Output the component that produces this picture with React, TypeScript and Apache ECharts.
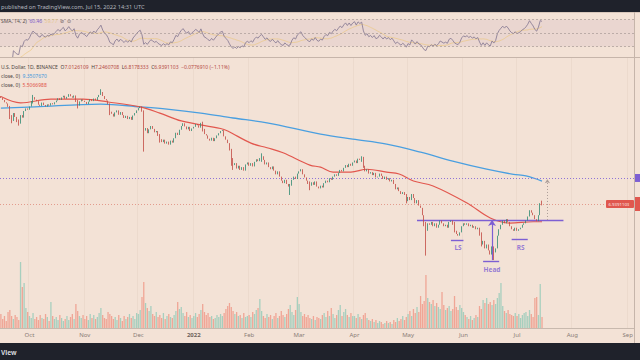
import React, { useEffect, useRef } from "react";
import * as echarts from "echarts";

// ---------- data (UNI / U.S. Dollar, daily) ----------
const firstDay = [2021, 8, 15]; // Sep 15 2021
const axisDays = 355; // category slots through early Sep 2022
const firstOpen = 28.2;

const closesSep = [27.5, 26.8, 26.0, 25.6, 24.5, 21.8, 20.4, 22.6, 21.5, 20.1, 19.7, 22.0, 21.3, 23.2, 24.0, 23.6];
const closesOct = [24.6, 26.4, 27.8, 26.9, 26.4, 25.2, 24.8, 25.9, 25.1, 24.6, 25.3, 24.9, 25.7, 25.3, 26.0, 26.6, 27.4, 26.8, 27.7, 28.3, 27.2, 27.9, 28.9, 28.1, 27.6, 28.4, 26.1, 24.9, 26.3, 27.0, 26.5];
const closesNov = [26.1, 25.4, 26.2, 27.0, 26.4, 27.3, 26.7, 27.8, 28.6, 29.7, 28.2, 27.1, 26.6, 25.3, 23.0, 22.4, 21.6, 22.8, 23.4, 22.1, 22.9, 22.0, 21.2, 21.8, 20.9, 21.5, 20.7, 21.9, 22.6, 23.4];
const closesDec = [24.1, 24.6, 23.0, 18.0, 18.6, 17.4, 18.3, 19.1, 18.4, 17.6, 17.9, 16.8, 16.1, 15.5, 16.0, 15.2, 15.6, 15.0, 15.8, 15.4, 16.3, 17.5, 17.0, 18.2, 19.1, 19.8, 19.0, 18.3, 18.9, 17.9, 18.5];
const closesJan = [18.9, 19.6, 19.3, 18.7, 19.9, 18.4, 17.2, 16.9, 16.2, 15.8, 16.4, 15.7, 16.3, 16.9, 17.4, 17.9, 18.1, 16.7, 16.0, 15.3, 13.9, 12.3, 11.5, 11.8, 11.0, 11.4, 10.8, 11.2, 10.7, 11.6, 11.9];
const closesFeb = [11.4, 11.8, 11.3, 12.0, 12.4, 12.1, 12.6, 12.9, 12.3, 11.6, 11.9, 11.2, 10.9, 11.3, 10.7, 10.2, 10.6, 9.9, 9.4, 9.1, 9.5, 9.0, 8.7, 8.8, 9.5, 9.9, 9.6, 10.3];
const closesMar = [10.6, 10.9, 10.2, 9.8, 9.4, 9.0, 8.8, 9.2, 8.9, 9.3, 8.7, 8.5, 8.8, 8.6, 9.1, 9.4, 9.2, 9.7, 9.5, 9.9, 10.2, 10.0, 10.4, 10.8, 10.6, 11.1, 11.5, 11.2, 11.7, 11.4, 11.9];
const closesApr = [12.2, 11.8, 12.5, 12.3, 12.6, 11.4, 10.6, 10.9, 10.3, 10.5, 10.1, 10.4, 9.8, 9.9, 10.3, 10.0, 9.6, 9.9, 9.5, 9.7, 9.3, 9.5, 9.0, 8.4, 8.6, 8.2, 7.9, 8.1, 7.8, 7.2];
const closesMay = [7.6, 7.3, 7.9, 7.5, 7.0, 7.3, 6.8, 6.6, 6.0, 5.2, 4.9, 5.4, 5.3, 5.5, 5.2, 5.4, 5.1, 5.3, 5.6, 5.4, 5.2, 5.3, 5.1, 5.5, 5.6, 5.3, 4.9, 4.7, 4.6, 4.8, 5.2];
const closesJun = [5.4, 5.3, 5.4, 5.2, 5.3, 5.1, 5.2, 5.0, 5.1, 4.6, 4.1, 4.3, 3.9, 4.1, 3.8, 3.6, 4.0, 3.7, 3.9, 4.6, 5.0, 5.3, 5.6, 5.4, 5.7, 5.5, 5.2, 5.0, 4.9, 5.1];
const closesJul = [4.9, 5.0, 5.1, 5.3, 5.4, 5.6, 5.9, 6.4, 6.2, 6.0, 5.7, 5.55, 6.0, 7.0126109, 6.9391103];

const volSep = [14, 9, 12, 7, 16, 18, 12, 9, 13, 11, 8, 66, 41, 45, 20, 16];
const volOct = [12, 10, 15, 9, 11, 8, 13, 10, 9, 14, 11, 7, 26, 12, 9, 11, 8, 13, 10, 7, 9, 12, 8, 11, 14, 9, 24, 17, 12, 10, 13];
const volNov = [9, 12, 8, 14, 10, 13, 9, 11, 15, 20, 13, 10, 9, 16, 14, 12, 9, 11, 8, 13, 10, 7, 12, 9, 11, 14, 10, 12, 9, 15];
const volDec = [14, 18, 31, 46, 25, 20, 17, 22, 14, 12, 16, 11, 13, 10, 15, 9, 12, 14, 11, 10, 13, 17, 26, 19, 21, 15, 12, 16, 11, 13, 10];
const volJan = [12, 15, 11, 14, 18, 24, 16, 13, 15, 11, 12, 9, 10, 13, 11, 14, 12, 15, 19, 22, 25, 21, 17, 14, 16, 12, 13, 10, 15, 11, 12];
const volFeb = [13, 11, 16, 14, 18, 20, 29, 17, 12, 10, 14, 11, 13, 9, 12, 15, 10, 12, 17, 13, 11, 14, 19, 23, 16, 13, 18, 31];
const volMar = [24, 16, 12, 14, 11, 13, 10, 9, 12, 8, 11, 10, 9, 13, 15, 11, 17, 12, 20, 14, 10, 13, 18, 23, 12, 16, 19, 13, 11, 15, 12];
const volApr = [12, 10, 14, 11, 9, 13, 15, 10, 8, 7, 9, 6, 8, 5, 7, 6, 4, 5, 7, 5, 6, 4, 8, 6, 10, 7, 9, 12, 8, 11];
const volMay = [14, 17, 12, 19, 15, 21, 16, 32, 24, 27, 53, 30, 26, 24, 28, 22, 25, 21, 19, 36, 23, 18, 20, 22, 17, 19, 32, 21, 18, 23, 20];
const volJun = [16, 13, 11, 9, 12, 8, 10, 13, 11, 22, 19, 28, 25, 30, 24, 26, 23, 28, 24, 30, 35, 45, 22, 17, 15, 18, 14, 13, 12, 15];
const volJul = [12, 14, 10, 13, 15, 16, 12, 18, 14, 11, 30, 31, 13, 44, 11];

// notable wicks: [day index, low, high]
const wicks: [number, number, number][] = [
  [5, 20.9, 24.8], [6, 19.8, 22.0], [10, 19.2, 20.8], [18, 25.6, 28.6], [43, 24.0, 26.8],
  [56, 28.6, 30.8], [61, 22.0, 25.6], [80, 13.7, 23.4], [89, 15.4, 17.2], [113, 17.8, 20.2],
  [129, 11.4, 14.2], [130, 10.8, 12.6], [146, 12.0, 13.4], [162, 7.8, 9.0], [173, 8.3, 9.3],
  [202, 12.0, 12.9], [203, 11.1, 12.8], [227, 7.0, 7.9], [238, 3.55, 5.5], [254, 4.8, 5.5],
  [269, 4.0, 4.8], [276, 3.35, 4.0], [303, 6.8178333, 7.2460708],
];

// moving averages read at sample days: [day index, value]
const sma200Points: [number, number][] = [
  [0, 24.1], [19, 24.5], [56, 25.4], [78, 24.5], [93, 23.8], [112, 22.6], [130, 21.2], [149, 19.9],
  [179, 17.2], [197, 16.1], [216, 15.1], [235, 13.6], [253, 12.1], [272, 10.9], [287, 10.2], [294, 9.99], [303, 9.35],
];
const sma50Points: [number, number][] = [
  [0, 28.0], [11, 25.8], [28, 27.1], [46, 27.1], [60, 26.1], [78, 24.5], [89, 22.6], [101, 20.4],
  [123, 18.5], [127, 17.9], [140, 15.3], [149, 14.4], [158, 13.5], [173, 11.5], [179, 11.2], [186, 10.5],
  [196, 10.5], [205, 10.9], [216, 10.5], [223, 10.25], [231, 9.35], [242, 8.77], [261, 7.03], [274, 5.79],
  [285, 5.42], [298, 5.51], [303, 5.51],
];

// inverse head & shoulders annotation
const neckPrice = 5.64;
const neckDays = [233, 315];
const patternNames = ["LS", "Head", "RS"];
const patternStart = [252, 270, 286];
const patternEnd = [259, 279, 295];
const patternBase = [4.35, 3.3, 4.4];
const patternLabelDay = [256, 275, 291];
const patternLabelPrice = [3.93, 2.95, 3.97];
const headArrowDay = 275;
const targetDay = 306;
const targetPrice = 9.73;
const lastClose = 6.9391103;

const monthNames = ["Jan", "Feb", "Mar", "Apr", "May", "Jun", "Jul", "Aug", "Sep", "Oct", "Nov", "Dec"];

const FONT = "Noto Sans";
const BG = "#f3e2d6";
const UP = "#2f8a72";
const DOWN = "#c24a43";
const PURPLE = "#7d5fd3";

function computeRsi(c: number[], period: number) {
  const out: (number | null)[] = [null];
  let ag = 0;
  let al = 0;
  for (let i = 1; i < c.length; i++) {
    const ch = c[i] - c[i - 1];
    const g = Math.max(ch, 0);
    const l = Math.max(-ch, 0);
    const n = Math.min(i, period);
    ag = (ag * (n - 1) + g) / n;
    al = (al * (n - 1) + l) / n;
    const v = al === 0 ? 100 : 100 - 100 / (1 + ag / al);
    out.push(i < 4 ? null : v);
  }
  return out;
}

function sma(vals: (number | null)[], n: number) {
  return vals.map((_, i) => {
    const w = vals.slice(Math.max(0, i - n + 1), i + 1).filter((x) => x != null) as number[];
    if (w.length < 4) return null;
    return w.reduce((a, b) => a + b, 0) / w.length;
  });
}

export default function App() {
  const ref = useRef<HTMLDivElement>(null);
  useEffect(() => {
    const el = ref.current!;
    const chart = echarts.init(el, undefined, { renderer: "svg" });

    const dates: string[] = [];
    for (let i = 0; i < axisDays; i++) {
      const d = new Date(Date.UTC(firstDay[0], firstDay[1], firstDay[2] + i));
      dates.push(d.toISOString().slice(0, 10));
    }
    const closes = [
      ...closesSep, ...closesOct, ...closesNov, ...closesDec, ...closesJan, ...closesFeb,
      ...closesMar, ...closesApr, ...closesMay, ...closesJun, ...closesJul,
    ];
    const volumes = [
      ...volSep, ...volOct, ...volNov, ...volDec, ...volJan, ...volFeb,
      ...volMar, ...volApr, ...volMay, ...volJun, ...volJul,
    ];
    const opens = closes.map((c, i) => (i === 0 ? firstOpen : closes[i - 1]));
    const wickMap: Record<number, [number, number]> = {};
    wicks.forEach(([d, lo, hi]) => (wickMap[d] = [lo, hi]));
    const candles = closes.map((c, i) => {
      const o = opens[i];
      const w = wickMap[i];
      const lo = Math.min(o, c, w ? w[0] : Infinity);
      const hi = Math.max(o, c, w ? w[1] : -Infinity);
      return [o, c, lo, hi];
    });
    const volData = volumes.map((v, i) => ({
      value: v,
      itemStyle: { color: closes[i] >= opens[i] ? "rgba(120,196,176,0.62)" : "rgba(238,128,110,0.62)" },
    }));
    const toLine = (pts: [number, number][]) => {
      const arr: (number | null)[] = new Array(axisDays).fill(null);
      pts.forEach(([d, v]) => (arr[d] = v));
      return arr;
    };
    const rsi = computeRsi(closes, 14);
    const rsiMa = sma(rsi, 14);

    const isMonthStart = (_i: number, v: string) => v.endsWith("-01");

    const patternLines = patternNames.map((_, k) => [
      { coord: [dates[patternStart[k]], patternBase[k]], symbol: "none", lineStyle: { color: PURPLE, width: 1.4, type: "solid" } },
      { coord: [dates[patternEnd[k]], patternBase[k]], symbol: "none" },
    ]);

    const option: any = {
      animation: false,
      backgroundColor: BG,
      textStyle: { fontFamily: FONT },
      grid: [
        { left: 0, right: 6, top: 12, height: 45 },
        { left: 0, right: 6, top: 58, height: 270 },
        { left: 0, right: 6, top: 250, height: 78 },
      ],
      xAxis: [
        { type: "category", gridIndex: 0, data: dates, show: false, boundaryGap: true },
        {
          type: "category", gridIndex: 1, data: dates, boundaryGap: true,
          axisLine: { show: true, lineStyle: { color: "#c8b9ae", width: 1 } },
          axisTick: { show: false },
          splitLine: { show: true, interval: isMonthStart, lineStyle: { color: "rgba(150,120,100,0.07)", width: 1 } },
          axisLabel: {
            interval: isMonthStart, margin: 4, fontSize: 6, color: "#8a7d76", fontFamily: FONT,
            formatter: (v: string) => {
              const [y, m] = v.split("-");
              if (m === "01") return "{y|" + y + "}";
              return monthNames[+m - 1];
            },
            rich: { y: { fontSize: 6, fontWeight: "bold", color: "#6e625c", fontFamily: FONT } },
          },
        },
        { type: "category", gridIndex: 2, data: dates, show: false, boundaryGap: true },
      ],
      yAxis: [
        { type: "value", gridIndex: 0, min: 14.4, max: 81.1, show: false },
        {
          type: "log", gridIndex: 1, min: 1.387, max: 46.2, position: "right",
          axisLine: { show: false }, axisTick: { show: false }, axisLabel: { show: false }, splitLine: { show: false },
        },
        { type: "value", gridIndex: 2, min: 0, max: 78, show: false },
      ],
      series: [
        {
          type: "line", xAxisIndex: 0, yAxisIndex: 0, data: rsiMa, showSymbol: false,
          lineStyle: { color: "rgba(236,200,130,0.75)", width: 0.9 }, z: 2,
        },
        {
          type: "line", xAxisIndex: 0, yAxisIndex: 0, data: rsi, showSymbol: false,
          lineStyle: { color: "#8c7f96", width: 0.9 }, z: 3,
          markArea: {
            silent: true,
            itemStyle: { color: "rgba(140,90,150,0.085)" },
            data: [[{ yAxis: 30 }, { yAxis: 70 }]],
          },
          markLine: {
            silent: true, symbol: ["none", "none"], label: { show: false },
            lineStyle: { color: "#a89996", type: [2, 2], width: 0.7 },
            data: [{ yAxis: 70 }, { yAxis: 50 }, { yAxis: 30 }],
          },
        },
        {
          type: "bar", xAxisIndex: 2, yAxisIndex: 2, data: volData, barWidth: "72%", z: 1,
        },
        {
          type: "line", xAxisIndex: 1, yAxisIndex: 1, data: toLine(sma200Points), connectNulls: true,
          showSymbol: false, smooth: 0.35, lineStyle: { color: "#4a9fe0", width: 1.3 }, z: 4,
        },
        {
          type: "line", xAxisIndex: 1, yAxisIndex: 1, data: toLine(sma50Points), connectNulls: true,
          showSymbol: false, smooth: 0.35, lineStyle: { color: "#e2574e", width: 1.2 }, z: 4,
        },
        {
          type: "candlestick", xAxisIndex: 1, yAxisIndex: 1, data: candles, barWidth: "70%", z: 5,
          itemStyle: { color: UP, color0: DOWN, borderColor: UP, borderColor0: DOWN, borderWidth: 0.8 },
          markLine: {
            silent: true, symbol: ["none", "none"], symbolSize: 5,
            label: { show: false },
            data: [
              {
                yAxis: targetPrice, symbol: "none",
                lineStyle: { color: "#8f74d6", type: [1, 2], width: 1 },
              },
              {
                yAxis: lastClose, symbol: "none",
                lineStyle: { color: "#e39b8d", type: [1, 2], width: 1 },
              },
              [
                { coord: [dates[neckDays[0]], neckPrice], symbol: "none", lineStyle: { color: PURPLE, width: 1.4, type: "solid" } },
                { coord: [dates[neckDays[1]], neckPrice], symbol: "none" },
              ],
              ...patternLines,
              [
                { coord: [dates[headArrowDay], patternBase[1] + 0.05], symbol: "none", lineStyle: { color: PURPLE, width: 1.2, type: "solid" } },
                { coord: [dates[headArrowDay], neckPrice], symbol: "arrow", symbolSize: 6 },
              ],
              [
                { coord: [dates[targetDay], neckPrice], symbol: "none", lineStyle: { color: "#ab9d98", width: 1, type: [1, 2] } },
                { coord: [dates[targetDay], targetPrice - 0.15], symbol: "arrow", symbolSize: 4 },
              ],
            ],
          },
        },
        {
          type: "scatter", xAxisIndex: 1, yAxisIndex: 1, symbolSize: 1, z: 6,
          itemStyle: { color: "rgba(0,0,0,0)" },
          data: patternNames.map((n, k) => ({ name: n, value: [dates[patternLabelDay[k]], patternLabelPrice[k]] })),
          label: {
            show: true, position: "inside", formatter: (p: any) => p.name,
            color: PURPLE, fontSize: 6.5, fontWeight: "bold", fontFamily: FONT,
          },
        },
      ],
    };
    chart.setOption(option);

    const yLast = chart.convertToPixel({ yAxisIndex: 1 }, lastClose) as number;
    const yTarget = chart.convertToPixel({ yAxisIndex: 1 }, targetPrice) as number;

    const txt = (x: number, y: number, text: string, fill: string, size: number, extra: any = {}) => ({
      type: "text", x, y, z: 200, silent: true,
      style: { text, fill, fontSize: size, fontFamily: FONT, verticalAlign: "middle", ...extra },
    });

    chart.setOption({
      graphic: [
        { type: "rect", z: 150, shape: { x: 0, y: 0, width: 640, height: 12 }, style: { fill: "#1f222b" } },
        { type: "rect", z: 150, shape: { x: 0, y: 343, width: 640, height: 17 }, style: { fill: "#1f222b" } },
        txt(1, 6.5, "published on TradingView.com, Jul 15, 2022 14:31 UTC", "#b4b7bf", 5.7),
        txt(1, 352, "View", "#d6d8de", 6.5, { fontWeight: "bold" }),
        { type: "line", z: 150, shape: { x1: 0, y1: 12.5, x2: 640, y2: 12.5 }, style: { stroke: "#d8c7bb", lineWidth: 1 } },
        { type: "line", z: 150, shape: { x1: 0, y1: 57.5, x2: 640, y2: 57.5 }, style: { stroke: "#c6b5aa", lineWidth: 1 } },
        { type: "line", z: 150, shape: { x1: 634.5, y1: 12, x2: 634.5, y2: 343 }, style: { stroke: "#c6b5aa", lineWidth: 1 } },
        txt(1, 21, "{n|SMA, 14, 2)}  {p|60.46}  {y|59.77}  {n|⊘  ⊙}", "#5b5250", 5, {
          rich: {
            n: { fill: "#5b5250", fontSize: 5, fontFamily: FONT },
            p: { fill: "#7e62c9", fontSize: 5, fontFamily: FONT },
            y: { fill: "#e6c88e", fontSize: 5, fontFamily: FONT },
          },
        }),
        txt(1, 67, "{n|U.S. Dollar, 1D, BINANCE}  {n|O}{v|7.0126109}  {n|H}{v|7.2460708}  {n|L}{v|6.8178333}  {n|C}{v|6.9391103}  {v|−0.0776910 (−1.11%)}", "#4a4240", 5, {
          rich: {
            n: { fill: "#4a4240", fontSize: 5, fontFamily: FONT },
            v: { fill: "#b54a44", fontSize: 5, fontFamily: FONT },
          },
        }),
        txt(1, 76, "{n|close, 0)}  {v|9.3507670}", "#4a4240", 5, {
          rich: {
            n: { fill: "#4a4240", fontSize: 5, fontFamily: FONT },
            v: { fill: "#3f98dc", fontSize: 5, fontFamily: FONT },
          },
        }),
        txt(1, 85, "{n|close, 0)}  {v|5.5066988}", "#4a4240", 5, {
          rich: {
            n: { fill: "#4a4240", fontSize: 5, fontFamily: FONT },
            v: { fill: "#e0524a", fontSize: 5, fontFamily: FONT },
          },
        }),
        { type: "rect", z: 160, shape: { x: 606, y: yLast - 4, width: 28, height: 8, r: 1 }, style: { fill: "#e0574e" } },
        txt(608.5, yLast, "6.9391103", "#fbe9e4", 4.3),
        { type: "rect", z: 160, shape: { x: 635, y: yLast - 7, width: 5, height: 14 }, style: { fill: "#e0574e" } },
        { type: "rect", z: 160, shape: { x: 635, y: yTarget - 4, width: 5, height: 8 }, style: { fill: "#7d5fd3" } },
      ],
    });

    return () => chart.dispose();
  }, []);
  return <div ref={ref} style={{ position: "fixed", left: 0, top: 0, width: 640, height: 360 }} />;
}
